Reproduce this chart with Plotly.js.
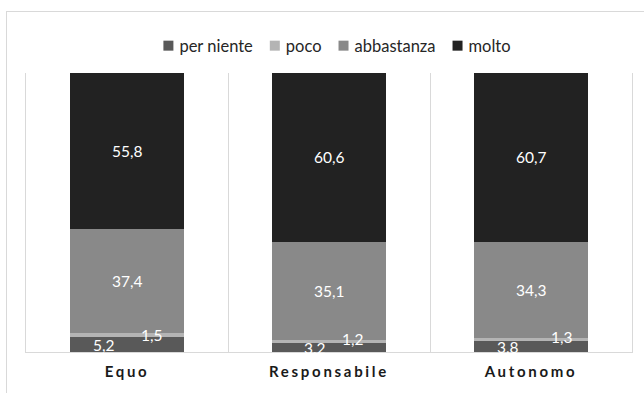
<!DOCTYPE html>
<html>
<head>
<meta charset="utf-8">
<script src="https://cdn.plot.ly/plotly-3.0.1.min.js"></script>
<style>
  html, body { margin: 0; padding: 0; width: 644px; height: 393px; overflow: hidden; background: #fff; }
  #frame { position: absolute; left: 6px; top: 11px; width: 700px; height: 500px; border: 1px solid #d9d9d9; box-sizing: border-box; }
  #chart { position: absolute; left: 0; top: 0; width: 644px; height: 393px; }
  .xtick text { letter-spacing: 2.7px; }
</style>
</head>
<body>
<div id="frame"></div>
<div id="chart"></div>
<script>
// ---- data ----
const categories = ["Equo", "Responsabile", "Autonomo"];
const seriesNames = ["per niente", "poco", "abbastanza", "molto"];
const perNiente = [5.2, 3.2, 3.8];
const poco = [1.5, 1.2, 1.3];
const abbastanza = [37.4, 35.1, 34.3];
const molto = [55.8, 60.6, 60.7];

// ---- styling (kept apart from data) ----
const colors = ["#595959", "#b4b4b4", "#898989", "#222222"];
// label nudges for the thin segments (pixels)
const perNienteLabelShiftX = [-23, -14, -23];
const pocoLabelShiftX = [25, 24, 31];
const pocoLabelShiftY = [0, 2, 3];
const FONT = 'Lato, "Open Sans", sans-serif';

const seriesValues = [perNiente, poco, abbastanza, molto];
const fmt = v => v.toFixed(1).replace('.', ',');

const traces = seriesValues.map((vals, i) => ({
  type: 'bar',
  name: seriesNames[i],
  x: categories,
  y: vals,
  marker: { color: colors[i], line: { width: 0 } },
  hoverinfo: 'skip'
}));

const annotations = [];
categories.forEach((cat, ci) => {
  let base = 0;
  seriesValues.forEach((vals, si) => {
    const v = vals[ci];
    const mid = base + v / 2;
    let xshift = 0, yshift = 0;
    if (si === 0) xshift = perNienteLabelShiftX[ci];
    if (si === 1) { xshift = pocoLabelShiftX[ci]; yshift = pocoLabelShiftY[ci]; }
    annotations.push({
      x: cat, y: mid, xref: 'x', yref: 'y',
      text: fmt(v), showarrow: false,
      xshift: xshift, yshift: yshift,
      font: { family: FONT, size: 15.5, color: '#ffffff' }
    });
    base += v;
  });
});

const layout = {
  width: 644, height: 393,
  margin: { l: 26, r: 12, t: 73, b: 41, pad: 0 },
  paper_bgcolor: 'rgba(0,0,0,0)',
  plot_bgcolor: 'rgba(0,0,0,0)',
  barmode: 'stack',
  bargap: 0.44,
  showlegend: true,
  legend: {
    orientation: 'h', x: 0.513, xanchor: 'center', y: 1.097, yanchor: 'middle',
    font: { family: FONT, size: 16.5, color: '#262626' },
    itemwidth: 30, traceorder: 'normal', itemclick: false, itemdoubleclick: false
  },
  xaxis: {
    type: 'category',
    tickson: 'boundaries',
    showgrid: true, gridcolor: '#d9d9d9', gridwidth: 1,
    showline: true, linecolor: '#d9d9d9', linewidth: 1,
    ticks: '', ticklen: 0, ticklabelstandoff: 6,
    tickfont: { family: FONT, size: 15, color: '#1a1a1a', weight: 'bold' },
    fixedrange: true
  },
  yaxis: {
    range: [0, 100],
    showgrid: false, zeroline: false,
    showticklabels: false, ticks: '',
    showline: true, linecolor: '#d9d9d9', linewidth: 1, mirror: true,
    fixedrange: true
  },
  annotations: annotations
};

// Compact the legend spacing to mimic the original (small square, short gap).
function compactLegend() {
  const sb = document.querySelector('.legend .scrollbox');
  if (sb) sb.removeAttribute('clip-path');
  const items = Array.from(document.querySelectorAll('.legend .traces'));
  if (!items.length) return;
  const SQ = 10, TEXT_X = 31, NEXT_GAP = 17, CENTER = 337;
  let x = 0;
  const xs = [];
  items.forEach(g => {
    const txt = g.querySelector('text.legendtext');
    const path = g.querySelector('.legendpoints path');
    if (path) path.setAttribute('transform', 'translate(20,0) scale(' + (SQ / 12) + ')');
    txt.setAttribute('x', TEXT_X);
    const w = txt.getComputedTextLength();
    xs.push(x);
    x = x + TEXT_X + w + NEXT_GAP - (20 - SQ / 2);
  });
  const ys = items.map(g => {
    const m = /translate\(\s*([-\d.]+)[ ,]+([-\d.]+)\s*\)/.exec(g.getAttribute('transform') || '');
    return m ? parseFloat(m[2]) : 0;
  });
  items.forEach((g, i) => g.setAttribute('transform', 'translate(' + xs[i] + ',' + ys[i] + ')'));
  const first = items[0].querySelector('.legendpoints path').getBoundingClientRect();
  const last = items[items.length - 1].querySelector('text.legendtext').getBoundingClientRect();
  const delta = CENTER - (first.left + last.right) / 2;
  items.forEach((g, i) => g.setAttribute('transform', 'translate(' + (xs[i] + delta) + ',' + ys[i] + ')'));
}

Plotly.newPlot('chart', traces, layout, { displayModeBar: false, staticPlot: true }).then(compactLegend);
</script>
</body>
</html>
